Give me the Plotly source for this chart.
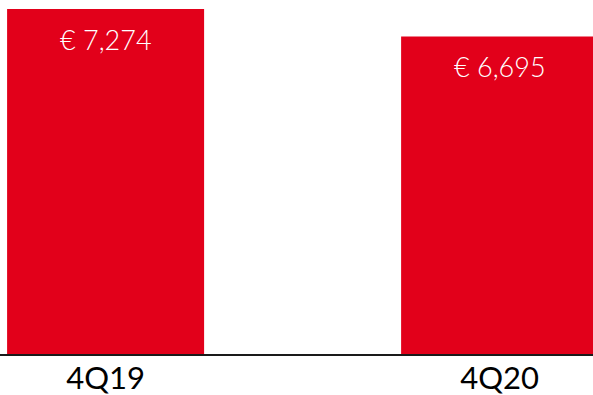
import plotly.graph_objects as go

quarters = ["4Q19", "4Q20"]
values = [7274, 6695]
bar_color = "#E2001A"

fig = go.Figure()
fig.add_trace(go.Bar(
    x=quarters,
    y=values,
    width=0.5,
    marker=dict(color=bar_color, line=dict(width=0)),
    hoverinfo="skip",
))

# value labels just under each bar top
for q, v in zip(quarters, values):
    fig.add_annotation(
        x=q, y=v, yref="y", xref="x",
        text=f"€ {v:,}",
        showarrow=False,
        yanchor="middle",
        yshift=-30,
        font=dict(family="Lato", size=27, color="white", weight=300),
    )

fig.update_layout(
    width=593, height=395,
    margin=dict(l=0, r=0, t=0, b=41, autoexpand=False),
    paper_bgcolor="white",
    plot_bgcolor="white",
    showlegend=False,
    bargap=0.5,
    xaxis=dict(
        range=[-0.268, 1.237],
        automargin=False,
        showgrid=False,
        showline=True,
        linecolor="#1a1a1a",
        linewidth=2,
        ticks="",
        tickfont=dict(family="Lato", size=31, color="black"),
        ticklabelstandoff=-4,
    ),
    yaxis=dict(
        range=[0, 7274 * 354 / 345],
        visible=False,
        showgrid=False,
        zeroline=False,
        automargin=False,
    ),
)

fig.write_html("out.html")
